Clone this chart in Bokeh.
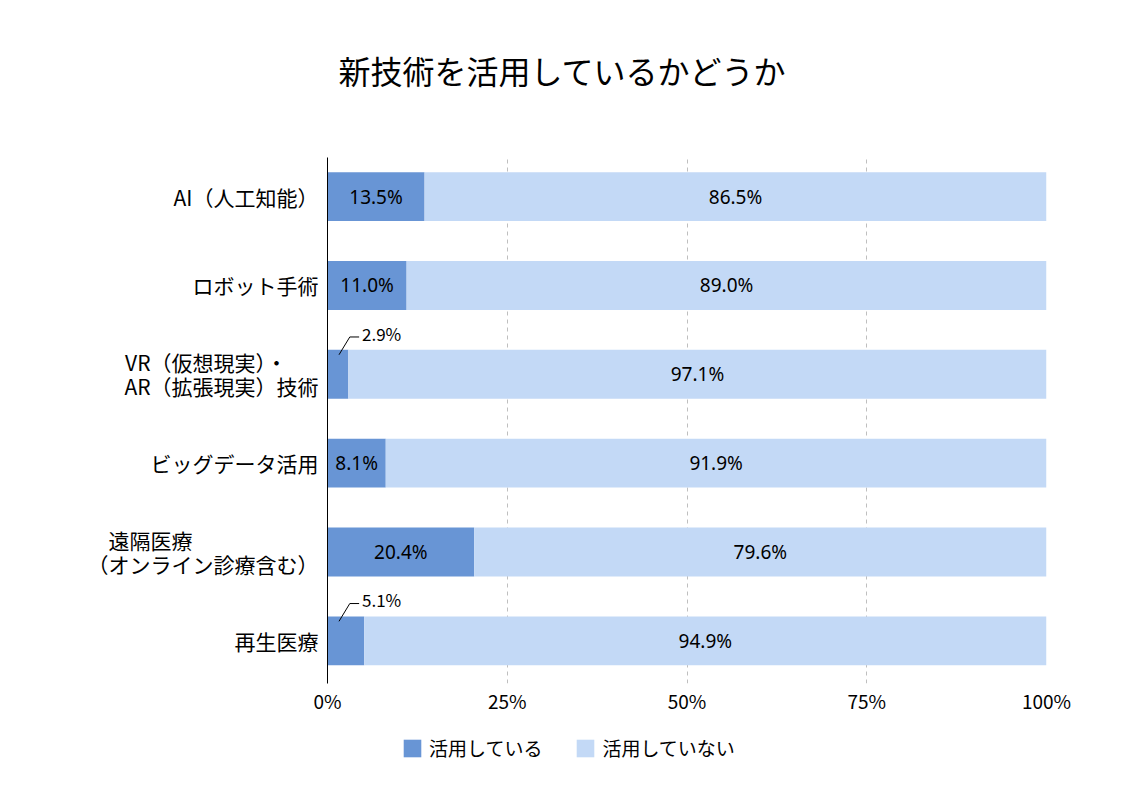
from bokeh.plotting import figure
from bokeh.models import ColumnDataSource, Range1d, FixedTicker, Legend, LegendItem, Label
from bokeh.layouts import column
from bokeh.core.properties import value
from bokeh.embed import file_html
from bokeh.resources import INLINE

# ---- data ----
categories = ["AI（人工知能）", "ロボット手術", "VR（仮想現実）・　\u2002\nAR（拡張現実）技術",
              "ビッグデータ活用", "遠隔医療　　　　　　\n（オンライン診療含む）", "再生医療"]
using = [13.5, 11.0, 2.9, 8.1, 20.4, 5.1]
not_using = [86.5, 89.0, 97.1, 91.9, 79.6, 94.9]
series_names = ["活用している", "活用していない"]
x_ticks = [0, 25, 50, 75, 100]
x_tick_labels = ["0%", "25%", "50%", "75%", "100%"]
title_text = "新技術を活用しているかどうか"

DARK = "#6895D5"
LIGHT = "#C3D9F6"
JP = "Noto Sans CJK JP"

n = len(categories)
ypos = [n - 1 - i for i in range(n)]

src = ColumnDataSource(dict(
    y=ypos,
    using=using,
    not_using=not_using,
    total=[a + b for a, b in zip(using, not_using)],
))

W = 1129
H_TITLE = 140
H_MAIN = 576
H_LEG = 68

# ---- title strip ----
t = figure(width=W, height=H_TITLE, output_backend="svg", toolbar_location=None,
           x_range=Range1d(0, 1), y_range=Range1d(0, 1), min_border=0,
           outline_line_color=None)
t.axis.visible = False
t.grid.visible = False
t.add_layout(Label(x=235, y=71, x_units="screen", y_units="screen", text=title_text,
                   text_font=JP, text_font_size="32px", text_color="black",
                   text_align="center", text_baseline="middle"))

# ---- main chart ----
p = figure(width=W, height=H_MAIN, output_backend="svg", toolbar_location=None,
           x_range=Range1d(0, 100), y_range=Range1d(-0.48, n - 1 + 0.44),
           min_border_left=327, min_border_right=83, min_border_top=17,
           min_border_bottom=32, outline_line_color=None)

BAR_H = 0.55
p.hbar(y="y", left=0, right="using", height=BAR_H, source=src,
       fill_color=DARK, line_color=None)
p.hbar(y="y", left="using", right="total", height=BAR_H, source=src,
       fill_color=LIGHT, line_color=None)

# labels
in_x, in_y, in_t = [], [], []
out_x, out_y, out_t = [], [], []
lx, ly = [], []
for u, nu, y in zip(using, not_using, ypos):
    if u >= 6:
        in_x.append(u / 2); in_y.append(y); in_t.append(f"{u:.1f}%")
    else:
        lx.append([1.6, 3.1, 4.4]); ly.append([y + 0.22, y + 0.42, y + 0.42])
        out_x.append(4.8); out_y.append(y + 0.46); out_t.append(f"{u:.1f}%")
    in_x.append(u + nu / 2); in_y.append(y); in_t.append(f"{nu:.1f}%")

p.text(x=in_x, y=in_y, text=in_t, text_align="center", text_baseline="middle",
       text_font=value("Noto Sans"), text_font_size="19px", text_color="black")
p.multi_line(xs=lx, ys=ly, line_color="black", line_width=1)
p.text(x=out_x, y=out_y, text=out_t, text_align="left", text_baseline="middle",
       text_font=value(JP), text_font_size="17px", text_color="black")

# axes
p.xaxis.ticker = FixedTicker(ticks=x_ticks)
p.xaxis.major_label_overrides = {tk: l for tk, l in zip(x_ticks, x_tick_labels)}
p.xaxis.major_label_text_font = JP
p.xaxis.major_label_text_font_size = "19px"
p.xaxis.major_label_text_color = "black"
p.xaxis.axis_line_color = None
p.xaxis.major_tick_line_color = None
p.xaxis.minor_tick_line_color = None
p.xaxis.major_label_standoff = -3

p.yaxis.ticker = FixedTicker(ticks=ypos)
p.yaxis.major_label_overrides = {y: c for y, c in zip(ypos, categories)}
p.yaxis.major_label_text_font = JP
p.yaxis.major_label_text_font_size = "21px"
p.yaxis.major_label_text_color = "black"
p.yaxis.major_label_text_line_height = 0.8
p.yaxis.axis_line_color = "black"
p.yaxis.axis_line_width = 1
p.yaxis.major_tick_line_color = None
p.yaxis.minor_tick_line_color = None
p.yaxis.major_label_standoff = 3

p.ygrid.grid_line_color = None
p.xgrid.grid_line_color = "#BFBFBF"
p.xgrid.grid_line_dash = "4 4"
p.xgrid.grid_line_width = 1

# ---- legend strip (legend swatches only, no visible marks) ----
q = figure(width=W, height=H_LEG, output_backend="svg", toolbar_location=None,
           x_range=Range1d(0, 1), y_range=Range1d(0, 1),
           min_border=0, outline_line_color=None)
q.axis.visible = False
q.grid.visible = False
nan = float("nan")
sw = ColumnDataSource(dict(x=[nan], y=[nan]))
s1 = q.rect(x="x", y="y", width=0.1, height=0.1, source=sw, fill_color=DARK, line_color=None)
s2 = q.rect(x="x", y="y", width=0.1, height=0.1, source=sw, fill_color=LIGHT, line_color=None)
legend = Legend(items=[LegendItem(label=series_names[0], renderers=[s1]),
                       LegendItem(label=series_names[1], renderers=[s2])],
                orientation="horizontal", location=(74, 23),
                label_text_font=JP, label_text_font_size="19px", label_text_color="black",
                glyph_width=22, glyph_height=22, label_standoff=6, spacing=32,
                border_line_color=None, background_fill_alpha=0, padding=4)
q.add_layout(legend, "center")

layout = column(t, p, q, spacing=0)
open("out.html", "w").write(file_html(layout, INLINE))
